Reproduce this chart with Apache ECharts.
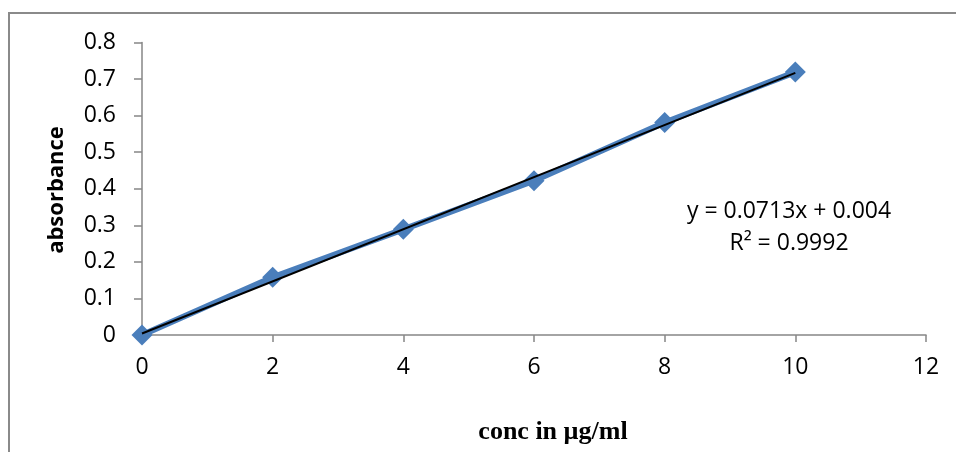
<!DOCTYPE html>
<html>
<head>
<meta charset="utf-8">
<script src="https://cdn.jsdelivr.net/npm/echarts@6/dist/echarts.min.js"></script>
<style>
  html, body { margin: 0; padding: 0; background: #fff; }
  #chart { width: 956px; height: 452px; }
</style>
</head>
<body>
<div id="chart"></div>
<script>
// Calibration data: concentration (µg/ml) vs absorbance
const concentrations = [0, 2, 4, 6, 8, 10];
const absorbances = [0, 0.158, 0.289, 0.422, 0.581, 0.719];

// Linear fit reported on the chart
const fitSlope = 0.0713;
const fitIntercept = 0.004;
const fitR2 = 0.9992;
const fitRange = [0, 10];

const xTitle = 'conc in µg/ml';
const yTitle = 'absorbance';

const measured = concentrations.map((c, i) => [c, absorbances[i]]);
const trend = fitRange.map(x => [x, fitSlope * x + fitIntercept]);

const axisGray = '#868686';
const labelFont = '"Open Sans", sans-serif';

const chart = echarts.init(document.getElementById('chart'), null, { renderer: 'canvas' });
chart.setOption({
  animation: false,
  backgroundColor: '#ffffff',
  grid: { left: 142, right: 30, top: 42.5, bottom: 117 },
  xAxis: {
    type: 'value', min: 0, max: 12, interval: 2,
    splitLine: { show: false },
    axisLine: { onZero: false, lineStyle: { color: axisGray, width: 1.5 } },
    axisTick: { show: true, length: 7, lineStyle: { color: axisGray, width: 1.5 } },
    axisLabel: { margin: 21, color: '#000', fontSize: 23, fontFamily: labelFont }
  },
  yAxis: {
    type: 'value', min: 0, max: 0.8, interval: 0.1,
    splitLine: { show: false },
    axisLine: { show: true, lineStyle: { color: axisGray, width: 1.5 } },
    axisTick: { show: true, length: 8, lineStyle: { color: axisGray, width: 1.5 } },
    axisLabel: { margin: 26, color: '#000', fontSize: 23, fontFamily: labelFont }
  },
  series: [
    {
      type: 'line',
      data: measured,
      symbol: 'diamond',
      symbolSize: 21,
      lineStyle: { color: '#4A7EBB', width: 6 },
      itemStyle: { color: '#4A7EBB' },
      z: 2
    },
    {
      type: 'line',
      data: trend,
      symbol: 'none',
      lineStyle: { color: '#000000', width: 2 },
      z: 3
    }
  ],
  graphic: [
    {
      type: 'polyline',
      shape: { points: [[9, 460], [9, 13], [960, 13]] },
      style: { stroke: '#8a8a8a', lineWidth: 2, fill: null }
    },
    {
      type: 'text',
      x: 57, y: 190, rotation: Math.PI / 2,
      style: {
        text: yTitle, fill: '#000',
        font: 'bold 22px "Open Sans", sans-serif',
        textAlign: 'center', textVerticalAlign: 'middle'
      }
    },
    {
      type: 'text',
      x: 553, y: 432,
      style: {
        text: xTitle, fill: '#000',
        font: 'bold 26px "Liberation Serif", serif',
        textAlign: 'center', textVerticalAlign: 'middle'
      }
    },
    {
      type: 'text',
      x: 789, y: 211,
      style: {
        text: 'y = ' + fitSlope + 'x + ' + fitIntercept.toFixed(3), fill: '#000',
        font: '23px "Open Sans", sans-serif',
        textAlign: 'center', textVerticalAlign: 'middle'
      }
    },
    {
      type: 'text',
      x: 789, y: 243,
      style: {
        text: 'R² = ' + fitR2, fill: '#000',
        font: '23px "Open Sans", sans-serif',
        textAlign: 'center', textVerticalAlign: 'middle'
      }
    }
  ]
});
</script>
</body>
</html>
